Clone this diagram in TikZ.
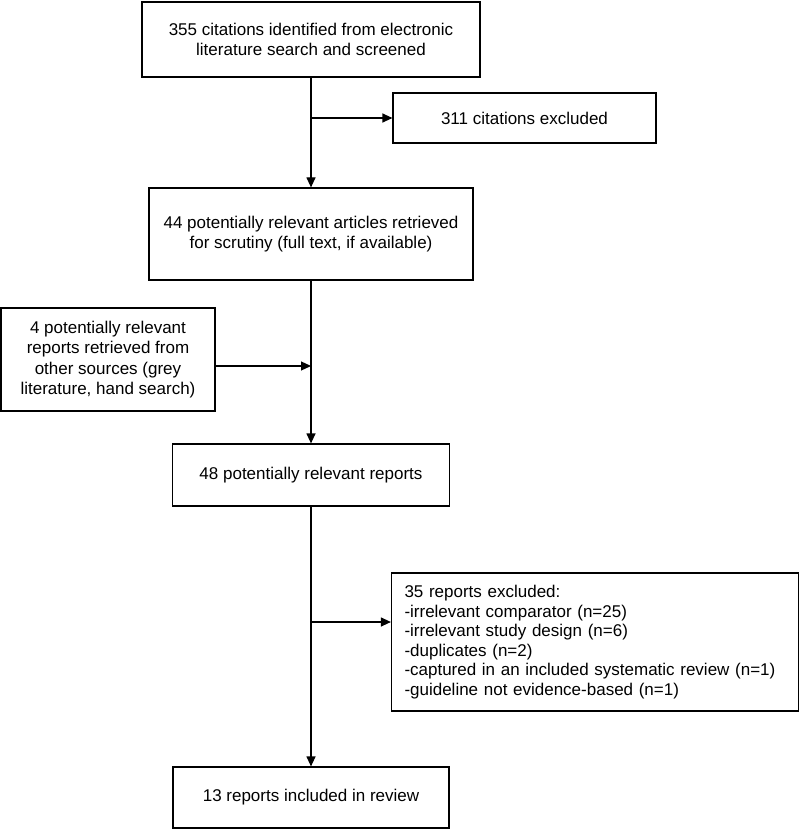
\documentclass[tikz,border=0pt]{standalone}
\usepackage{fontspec}
\setmainfont{Liberation Sans}
\usetikzlibrary{arrows.meta}
\begin{document}
\begin{tikzpicture}[x=1pt,y=1pt,
  box/.style={draw=black, line width=1.2pt, inner sep=0pt, align=center,
    font=\fontsize{17}{20.5}\selectfont},
  arr/.style={line width=1.2pt, -{Triangle[length=10pt,width=9pt]}}]
\useasboundingbox (0,0) rectangle (800,-829);
\node[box, minimum width=338pt, minimum height=75pt] (b1) at (311,-39.5)
  {355 citations identified from electronic\\literature search and screened};
\node[box, minimum width=263pt, minimum height=50pt] (b2) at (524.5,-118)
  {311 citations excluded};
\node[box, minimum width=324pt, minimum height=92pt] (b3) at (311,-234)
  {44 potentially relevant articles retrieved\\for scrutiny (full text, if available)};
\node[box, minimum width=214pt, minimum height=103pt] (b4) at (108,-359.5)
  {4 potentially relevant\\reports retrieved from\\other sources (grey\\literature, hand search)};
\node[box, minimum width=277pt, minimum height=62pt] (b5) at (311,-475)
  {48 potentially relevant reports};
\node[box, minimum width=407pt, minimum height=138pt, text width=381pt, inner xsep=13pt,
  align=left, font=\fontsize{17}{19.5}\selectfont] (b6) at (595,-642)
  {35 reports excluded:\\-irrelevant comparator (n=25)\\-irrelevant study design (n=6)\\-duplicates (n=2)\\-captured in an included systematic review (n=1)\\-guideline not evidence-based (n=1)};
\node[box, minimum width=276pt, minimum height=61pt] (b7) at (311,-797.5)
  {13 reports included in review};
\coordinate (j1) at (311,-118);
\coordinate (j4) at (311,-366);
\coordinate (s4) at (b4.east |- j4);
\coordinate (j6) at (311,-622);
\coordinate (e6) at (b6.west |- j6);
\draw[arr] (b1.south) -- (b3.north);
\draw[arr] (j1) -- (b2.west);
\draw[arr] (b3.south) -- (b5.north);
\draw[arr] (s4) -- (j4);
\draw[arr] (b5.south) -- (b7.north);
\draw[arr] (j6) -- (e6);
\end{tikzpicture}
\end{document}
